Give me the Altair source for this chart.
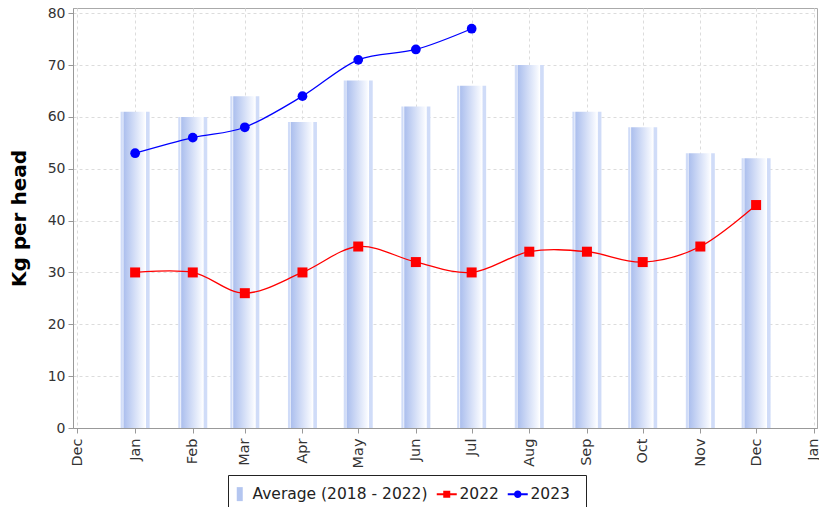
import altair as alt
import pandas as pd

months = ["2023-01-01", "2023-02-01", "2023-03-01", "2023-04-01", "2023-05-01", "2023-06-01",
          "2023-07-01", "2023-08-01", "2023-09-01", "2023-10-01", "2023-11-01", "2023-12-01"]
average = [61, 60, 64, 59, 67, 62, 66, 70, 61, 58, 53, 52]
y2022 = [30, 30, 26, 30, 35, 32, 30, 34, 34, 32, 35, 43]
y2023 = [53, 56, 58, 64, 71, 73, 77]
series_names = ["Average (2018 - 2022)", "2022", "2023"]
series_colors = ["#b4c6f0", "#ff0000", "#0000ff"]

FONT = "DejaVu Sans"
BLANK = "\u2800"

df_avg = pd.DataFrame({"month": months, "value": average})
df_22 = pd.DataFrame({"month": months, "value": y2022})
df_23 = pd.DataFrame({"month": months[:len(y2023)], "value": y2023})
df_leg = pd.DataFrame({"series": series_names})

tick_vals = [alt.DateTime(year=2022, month=12, date=1, utc=True)] + \
            [alt.DateTime(year=2023, month=m, date=1, utc=True) for m in range(1, 13)] + \
            [alt.DateTime(year=2024, month=1, date=1, utc=True)]

x_scale = alt.Scale(type="utc", nice=False, padding=0,
                    domain=[alt.DateTime(year=2022, month=11, date=28, hours=14, utc=True),
                            alt.DateTime(year=2024, month=1, date=2, hours=18, utc=True)])
y_scale = alt.Scale(domain=[0, 81], nice=False, padding=0)

x_enc = alt.X("month:T", scale=x_scale,
              axis=alt.Axis(values=tick_vals, format="%b", labelAngle=-90, title=None,
                            grid=True, labelFontSize=14.5, labelPadding=5, tickSize=5))
y_enc = alt.Y("value:Q", scale=y_scale,
              axis=alt.Axis(values=list(range(0, 81, 10)), title="Kg per head",
                            titleFontSize=20, titleFontWeight="bold", titleColor="#000",
                            titlePadding=18, labelFontSize=14, tickSize=5, labelPadding=3))

grad = alt.Gradient(gradient="linear", x1=0, x2=1, y1=0, y2=0, stops=[
    alt.GradientStop(offset=0.0, color="#d0dcf8"),
    alt.GradientStop(offset=0.06, color="#d0dcf8"),
    alt.GradientStop(offset=0.08, color="#eef2fc"),
    alt.GradientStop(offset=0.12, color="#adc0ee"),
    alt.GradientStop(offset=0.78, color="#f4f7fe"),
    alt.GradientStop(offset=0.86, color="#ffffff"),
    alt.GradientStop(offset=0.89, color="#d0dcf8"),
    alt.GradientStop(offset=1.0, color="#d0dcf8"),
])

bars = alt.Chart(df_avg).mark_bar(fill=grad, width=29).encode(x=x_enc, y=y_enc)

line22 = alt.Chart(df_22).mark_line(color="#ff0000", strokeWidth=1.3, interpolate="cardinal").encode(x=x_enc, y=y_enc)
pts22 = alt.Chart(df_22).mark_point(shape="square", filled=True, color="#ff0000", size=100, opacity=1).encode(x=x_enc, y=y_enc)
line23 = alt.Chart(df_23).mark_line(color="#0000ff", strokeWidth=1.3, interpolate="cardinal").encode(x=x_enc, y=y_enc)
pts23 = alt.Chart(df_23).mark_point(shape="circle", filled=True, color="#0000ff", size=95, opacity=1).encode(x=x_enc, y=y_enc)

# legend symbol paths (symbolSize 100 -> 1 unit = 5 px)
shape_avg = "M-0.6,-1.4H0.6V1.4H-0.6Z"
shape_22 = "M-2,-0.2H2V0.2H-2Z M-0.7,-0.7H0.7V0.7H-0.7Z"
shape_23 = ("M-2,-0.2H2V0.2H-2Z M0.75,0A0.75,0.75,0,1,1,-0.75,0"
            "A0.75,0.75,0,1,1,0.75,0Z")

legend = alt.Legend(title=" ", titleOrient="top", titleFontSize=5, titlePadding=2,
                    orient="none", legendX=155, legendY=467, direction="horizontal",
                    labelFontSize=15.5, labelFont=FONT, labelColor="#222", symbolSize=100,
                    symbolOpacity=1, symbolStrokeWidth=0, strokeColor="#222", fillColor="#ffffff",
                    padding=4, columnPadding=8, labelOffset=5, labelLimit=300,
                    labelExpr="datum.label == '2023' ? '2023" + BLANK + "' : datum.label")

leg_layer = alt.Chart(df_leg).mark_point(filled=True, opacity=0, size=10).encode(
    x=alt.value(0), y=alt.value(0),
    color=alt.Color("series:N", scale=alt.Scale(domain=series_names, range=series_colors),
                    legend=legend, sort=series_names),
    shape=alt.Shape("series:N", scale=alt.Scale(domain=series_names, range=[shape_avg, shape_22, shape_23]),
                    legend=legend, sort=series_names),
)

chart = alt.layer(bars, line22, line23, pts22, pts23, leg_layer).properties(
    width=744, height=420,
    autosize=alt.AutoSizeParams(type="none"),
    padding={"left": 73, "top": 8, "right": 2, "bottom": 79},
).configure(font=FONT, background="#ffffff").configure_axis(
    gridColor="#dcdcdc", gridDash=[3, 3], gridWidth=1,
    domainColor="#999999", tickColor="#999999", labelColor="#333333",
    labelFont=FONT, titleFont=FONT,
).configure_view(stroke="#aaaaaa", strokeWidth=1)

chart.save("out.html", embed_options={"renderer": "svg", "actions": False})
